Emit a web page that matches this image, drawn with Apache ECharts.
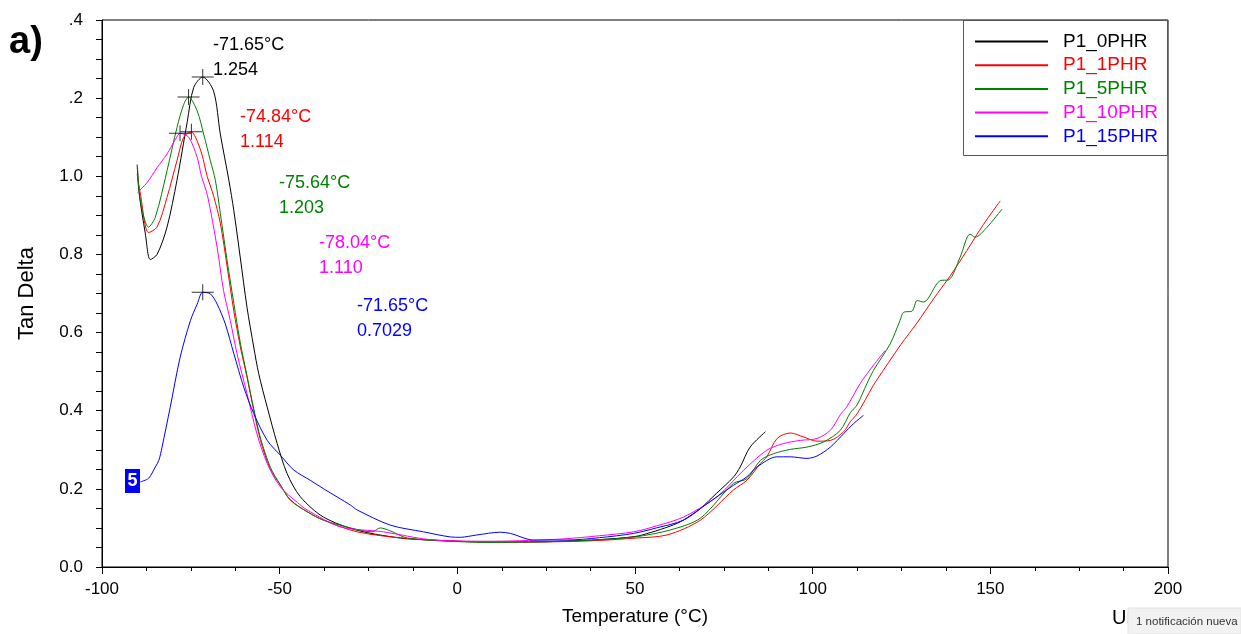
<!DOCTYPE html>
<html>
<head>
<meta charset="utf-8">
<script src="https://cdn.jsdelivr.net/npm/echarts@6/dist/echarts.min.js"></script>
<style>
html,body{margin:0;padding:0;background:#fff;}
#chart{width:1241px;height:634px;}
</style>
</head>
<body>
<div id="chart"></div>
<script>
// ---------- data ----------
const seriesNames = ['P1_0PHR', 'P1_1PHR', 'P1_5PHR', 'P1_10PHR', 'P1_15PHR'];
const seriesColors = ['#000000', '#ff0000', '#008000', '#ff00ff', '#0000ff'];

const p1_0PHR = [[-90.1,1.03],[-89.6,0.96],[-87.8,0.853],[-86.4,0.787],[-84.5,0.80],[-81.7,0.87],[-78.9,0.99],[-76.0,1.14],[-74.2,1.227],[-71.65,1.254],[-68.6,1.218],[-66.7,1.108],[-64.3,0.99],[-62.9,0.912],[-61.1,0.793],[-59.2,0.665],[-57.3,0.563],[-55.9,0.495],[-53.5,0.409],[-50.7,0.316],[-47.9,0.239],[-44.2,0.18],[-37.7,0.128],[-28.2,0.094],[-16,0.074],[-9.5,0.07],[0,0.066],[10,0.064],[20,0.064],[30,0.066],[40,0.07],[50,0.078],[54.3,0.088],[60,0.105],[63.6,0.12],[68.4,0.15],[73,0.189],[77.7,0.23],[79.6,0.256],[82.4,0.307],[86.7,0.346]];

const p1_1PHR = [[-90.1,1.006],[-89.2,0.955],[-86.9,0.856],[-84.5,0.87],[-81.7,0.946],[-78.9,1.04],[-77,1.10],[-74.84,1.114],[-73.7,1.10],[-71.9,1.057],[-70.4,1.0],[-68.6,0.95],[-66.7,0.88],[-64.8,0.77],[-62.9,0.655],[-61.1,0.565],[-59.2,0.486],[-57.3,0.401],[-55.4,0.324],[-52.6,0.25],[-49.8,0.21],[-47,0.171],[-42,0.14],[-37.7,0.12],[-28.2,0.09],[-14.2,0.073],[0,0.066],[10,0.064],[20,0.064],[30,0.065],[40,0.068],[50,0.074],[59,0.082],[68.4,0.12],[77.7,0.197],[81.5,0.222],[85.3,0.265],[87.1,0.282],[90,0.329],[93.7,0.343],[97.4,0.333],[101.2,0.322],[105,0.324],[108.7,0.346],[110.6,0.372],[112.5,0.392],[117.1,0.465],[118,0.478],[124.8,0.569],[129.4,0.625],[134,0.686],[138.7,0.745],[143.4,0.81],[148,0.876],[152.8,0.937]];

const p1_5PHR = [[-90,1.022],[-89.2,0.937],[-86.9,0.87],[-85,0.895],[-81.7,1.014],[-78.9,1.125],[-77,1.184],[-75.64,1.203],[-73.2,1.167],[-71.4,1.108],[-69.5,1.04],[-68.1,0.99],[-66.7,0.905],[-64.8,0.785],[-62.9,0.675],[-61.1,0.575],[-59.2,0.49],[-57.3,0.405],[-55.4,0.33],[-52.6,0.255],[-49.8,0.21],[-47,0.172],[-42,0.14],[-37.7,0.12],[-30,0.1],[-24,0.09],[-21.7,0.1],[-19,0.093],[-14,0.074],[0,0.065],[10,0.063],[20,0.064],[30,0.066],[40,0.07],[50,0.077],[60,0.095],[68.4,0.125],[77.7,0.214],[81.5,0.226],[85.3,0.273],[89,0.29],[93.7,0.301],[98.4,0.307],[103.1,0.32],[107.8,0.35],[110.6,0.395],[112.5,0.415],[115.3,0.47],[117.1,0.503],[121.8,0.571],[124.6,0.631],[125.6,0.652],[128,0.655],[129.4,0.682],[131.2,0.678],[135.9,0.733],[138.3,0.735],[141.5,0.793],[144.3,0.852],[145.7,0.844],[149,0.869],[153.3,0.916]];

const p1_10PHR = [[-90,0.959],[-87.3,0.984],[-84.5,1.022],[-81.7,1.057],[-79.3,1.095],[-78.04,1.110],[-75.6,1.10],[-73.2,1.048],[-72,1.0],[-70.3,0.95],[-67.6,0.818],[-65.8,0.708],[-63.9,0.631],[-62,0.546],[-59.2,0.444],[-56.4,0.341],[-53.5,0.265],[-49.8,0.205],[-45,0.165],[-42.3,0.146],[-32.9,0.103],[-20.8,0.09],[-9.5,0.072],[-2,0.067],[10,0.066],[20,0.068],[30,0.072],[40,0.08],[49.6,0.09],[56,0.105],[63.7,0.128],[73.1,0.18],[80.6,0.248],[87.1,0.299],[91.8,0.316],[96.5,0.324],[101.2,0.329],[105,0.35],[107.8,0.39],[109.6,0.41],[113.4,0.47],[117,0.515],[120.4,0.554]];

const p1_15PHR = [[-89.2,0.218],[-86.9,0.227],[-85,0.256],[-84,0.273],[-83.1,0.307],[-80.8,0.409],[-78,0.537],[-75.1,0.631],[-73.2,0.673],[-71.65,0.703],[-69.5,0.699],[-67.6,0.673],[-65.3,0.622],[-62.9,0.546],[-60.1,0.46],[-57.3,0.393],[-53.5,0.324],[-49.8,0.286],[-46,0.248],[-41.4,0.222],[-37.6,0.2],[-30,0.158],[-28.2,0.146],[-18.8,0.107],[-9.5,0.09],[-2,0.077],[0.8,0.076],[5.5,0.082],[12.1,0.089],[14.9,0.086],[21.5,0.069],[30.9,0.069],[40,0.075],[49.6,0.086],[56,0.1],[63.7,0.12],[70,0.16],[77.7,0.209],[81.5,0.231],[84.3,0.256],[90,0.282],[93.7,0.282],[98.4,0.278],[101.2,0.284],[105,0.307],[108.7,0.341],[111.5,0.367],[114.3,0.388]];

const seriesData = [p1_0PHR, p1_1PHR, p1_5PHR, p1_10PHR, p1_15PHR];

// peak markers and annotations
const peakT = [-71.65, -74.84, -75.64, -78.04, -71.65];
const peakV = [1.254, 1.114, 1.203, 1.110, 0.7029];
const peakTLabels = ['-71.65°C', '-74.84°C', '-75.64°C', '-78.04°C', '-71.65°C'];
const peakVLabels = ['1.254', '1.114', '1.203', '1.110', '0.7029'];

const yTickLabels = {'0.0':'0.0','0.2':'0.2','0.4':'0.4','0.6':'0.6','0.8':'0.8','1.0':'1.0','1.2':'.2','1.4':'.4'};

// ---------- chart ----------
const FONT = '"Liberation Sans", Arial, sans-serif';
const chart = echarts.init(document.getElementById('chart'), null, {renderer: 'canvas'});

const annPos = [[213, 45], [240, 117], [279, 183], [319, 243], [357, 306]];
const graphics = [];
// legend box
graphics.push({type:'rect', z:5, shape:{x:963.5, y:20.5, width:204, height:135}, style:{fill:'#fff', stroke:'#555', lineWidth:1}});
annPos.forEach((p, i) => {
  graphics.push({type:'text', z:10, x:p[0], y:p[1], style:{text:peakTLabels[i], fill:seriesColors[i], font:'18px ' + FONT, textVerticalAlign:'middle'}});
  graphics.push({type:'text', z:10, x:p[0], y:p[1] + 25, style:{text:peakVLabels[i], fill:seriesColors[i], font:'18px ' + FONT, textVerticalAlign:'middle'}});
});
// "a)" panel label
graphics.push({type:'text', z:10, x:9, y:43, style:{text:'a)', fill:'#000', font:'bold 38px ' + FONT, textVerticalAlign:'middle'}});
// "5" tag on blue curve
graphics.push({type:'rect', z:10, shape:{x:125, y:469, width:15, height:24}, style:{fill:'#0000ff'}});
graphics.push({type:'text', z:11, x:132.5, y:481.5, style:{text:'5', fill:'#fff', font:'bold 18px ' + FONT, textAlign:'center', textVerticalAlign:'middle'}});
// cut-off "Ur" text and notification popup
graphics.push({type:'text', z:10, x:1112, y:618, style:{text:'Ur', fill:'#000', font:'20px ' + FONT, textVerticalAlign:'middle'}});
graphics.push({type:'rect', z:12, shape:{x:1128, y:608, width:113, height:26}, style:{fill:'#f2f2f2', stroke:'#e4e4e4', lineWidth:1}});
graphics.push({type:'text', z:13, x:1136, y:622, style:{text:'1 notificación nueva', fill:'#333', font:'11.5px ' + FONT, textVerticalAlign:'middle'}});

const series = seriesNames.map((name, i) => ({
  name: name,
  type: 'line',
  data: seriesData[i],
  symbol: 'none',
  smooth: 0.3,
  lineStyle: {color: seriesColors[i], width: 1},
  itemStyle: {color: seriesColors[i]},
  z: 3,
  animation: false
}));
series.push({
  name: 'peaks',
  type: 'scatter',
  data: peakT.map((t, i) => [t, peakV[i]]),
  symbol: 'path://M0,7.5H22V8.5H0Z M10.5,0H11.5V16H10.5Z',
  symbolSize: [22, 16],
  itemStyle: {color: '#000'},
  z: 6,
  animation: false
});

chart.setOption({
  backgroundColor: '#fff',
  animation: false,
  textStyle: {fontFamily: FONT},
  grid: {left: 102, right: 73, top: 20, bottom: 67, show: true, borderColor: '#000', borderWidth: 1},
  legend: {
    data: seriesNames.map((n, i) => ({name: n, textStyle: {color: seriesColors[i]}})),
    orient: 'vertical',
    left: 963, top: 21,
    padding: [11, 10, 8, 12],
    itemWidth: 73, itemHeight: 14,
    itemGap: 4.7,
    icon: 'path://M0,6.5H73V8.5H0Z',
    textStyle: {fontSize: 19, lineHeight: 19, fontFamily: FONT, padding: [0, 0, 0, 10]},
    z: 8,
    selectedMode: false
  },
  xAxis: {
    type: 'value', min: -100, max: 200, interval: 50,
    name: 'Temperature (°C)', nameLocation: 'middle', nameGap: 40,
    nameTextStyle: {fontSize: 19, color: '#000', fontFamily: FONT},
    axisLine: {onZero: false, lineStyle: {color: '#000', width: 1}},
    axisTick: {show: true, length: 7, lineStyle: {color: '#000'}},
    minorTick: {show: true, splitNumber: 4, length: 4, lineStyle: {color: '#000'}},
    axisLabel: {fontSize: 17, color: '#000', margin: 14, fontFamily: FONT},
    splitLine: {show: false}
  },
  yAxis: {
    type: 'value', min: 0, max: 1.4, interval: 0.2,
    name: 'Tan Delta', nameLocation: 'middle', nameGap: 64, nameRotate: 90,
    nameTextStyle: {fontSize: 22, color: '#000', fontFamily: FONT},
    axisLine: {onZero: false, lineStyle: {color: '#000', width: 1}},
    axisTick: {show: true, length: 6, lineStyle: {color: '#000'}},
    minorTick: {show: true, splitNumber: 4, length: 6, lineStyle: {color: '#000'}},
    axisLabel: {fontSize: 17, color: '#000', margin: 19, fontFamily: FONT,
      formatter: v => yTickLabels[v.toFixed(1)]},
    splitLine: {show: false}
  },
  graphic: graphics,
  series: series
});
</script>
</body>
</html>
